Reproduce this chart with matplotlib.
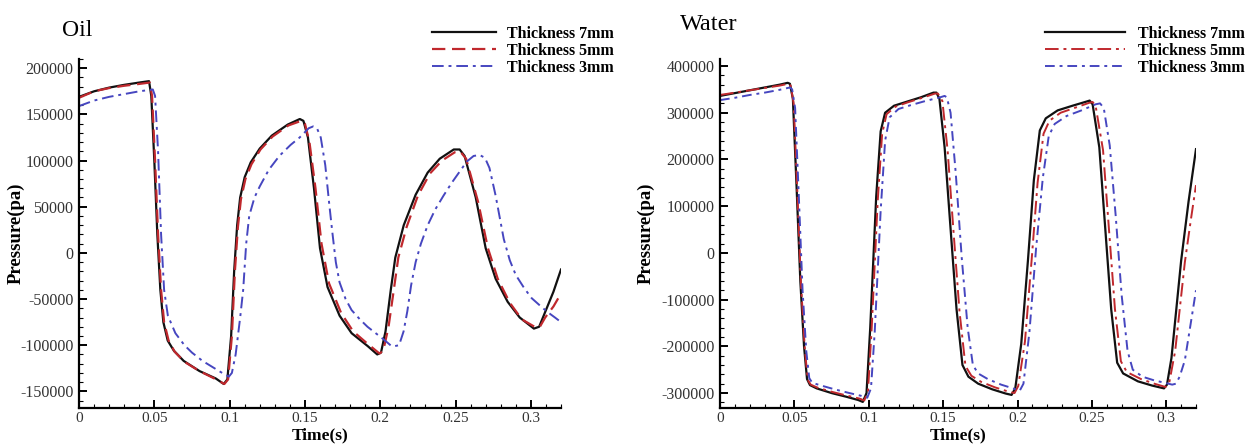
import matplotlib
matplotlib.use("Agg")
from matplotlib import pyplot as plt
from matplotlib.ticker import MultipleLocator, FuncFormatter
import numpy as np

plt.rcParams['font.family'] = ['Liberation Serif', 'DejaVu Serif']

# ---- Oil ----
oil_t7 = [0, 0.01, 0.02, 0.03, 0.04, 0.0465, 0.048, 0.050, 0.052, 0.054, 0.056, 0.0589, 0.063, 0.0695,
          0.080, 0.0908, 0.0961, 0.0985, 0.101, 0.103, 0.105, 0.107, 0.110, 0.114, 0.120, 0.128, 0.1386,
          0.1466, 0.149, 0.152, 0.156, 0.160, 0.165, 0.173, 0.181, 0.1917, 0.198, 0.2005, 0.2035, 0.207,
          0.210, 0.2156, 0.2235, 0.2315, 0.2395, 0.2488, 0.2527, 0.256, 0.2634, 0.270, 0.2766, 0.2846,
          0.2926, 0.302, 0.3055, 0.3085, 0.315, 0.32]
oil_p7 = [169000, 175000, 179000, 182000, 184500, 186000, 170000, 100000, 20000, -40000, -75000, -95000,
          -106000, -117000, -128000, -136000, -142000, -137000, -90000, -20000, 30000, 60000, 82000, 98000,
          113000, 127000, 139000, 145000, 143000, 125000, 70000, 5000, -37000, -68000, -87000, -101000,
          -110000, -108000, -85000, -40000, -5000, 30000, 63000, 87000, 102000, 112000, 112000, 105000,
          60000, 5000, -28000, -53000, -70000, -82000, -80000, -68000, -42000, -18000]

oil_t5 = [0, 0.01, 0.02, 0.03, 0.04, 0.047, 0.0485, 0.0505, 0.0525, 0.0545, 0.0565, 0.0595, 0.0635, 0.070,
          0.080, 0.091, 0.0965, 0.099, 0.1015, 0.1035, 0.1055, 0.1075, 0.1105, 0.1145, 0.1205, 0.1285, 0.139,
          0.1475, 0.150, 0.153, 0.157, 0.161, 0.166, 0.174, 0.182, 0.192, 0.1995, 0.202, 0.2055, 0.209, 0.212,
          0.2175, 0.225, 0.233, 0.241, 0.2495, 0.253, 0.257, 0.265, 0.2715, 0.278, 0.286, 0.294, 0.3035,
          0.306, 0.3095, 0.315, 0.32]
oil_p5 = [168000, 175000, 178500, 181000, 183000, 184500, 170000, 100000, 20000, -40000, -75000, -95000,
          -107000, -118000, -128000, -137000, -142000, -137000, -90000, -20000, 28000, 58000, 80000, 96000,
          112000, 126000, 138000, 143000, 140000, 120000, 70000, 10000, -33000, -65000, -85000, -99000,
          -109000, -106000, -80000, -40000, -5000, 28000, 62000, 86000, 100000, 109000, 110000, 102000,
          55000, 5000, -28000, -54000, -72000, -81000, -80000, -70000, -58000, -44000]

oil_t3 = [0, 0.01, 0.02, 0.03, 0.04, 0.049, 0.0505, 0.0525, 0.0545, 0.0565, 0.059, 0.064, 0.070, 0.075,
          0.082, 0.088, 0.094, 0.0995, 0.1015, 0.104, 0.107, 0.109, 0.111, 0.113, 0.1165, 0.120, 0.126,
          0.133, 0.1405, 0.1465, 0.1525, 0.1555, 0.158, 0.1605, 0.1635, 0.166, 0.168, 0.1705, 0.173, 0.177,
          0.181, 0.1865, 0.1915, 0.197, 0.2025, 0.2075, 0.2095, 0.2125, 0.2155, 0.218, 0.2205, 0.2235,
          0.227, 0.2315, 0.2365, 0.242, 0.2475, 0.2527, 0.2575, 0.262, 0.266, 0.2695, 0.2725, 0.2766,
          0.282, 0.286, 0.290, 0.2955, 0.3005, 0.306, 0.311, 0.316, 0.32]
oil_p3 = [159000, 165000, 169000, 172000, 175000, 177000, 170000, 110000, 20000, -40000, -68000, -87000,
          -100000, -108000, -117000, -123000, -129000, -134000, -130000, -110000, -70000, -40000, 10000,
          40000, 60000, 72000, 90000, 105000, 117000, 125000, 135000, 137000, 135000, 125000, 95000, 55000,
          25000, -10000, -32000, -50000, -62000, -72000, -80000, -87000, -94000, -101000, -101000, -100000,
          -85000, -63000, -35000, -10000, 10000, 30000, 47000, 62000, 76000, 88000, 99000, 105000, 106000,
          103000, 92000, 62000, 15000, -8000, -24000, -38000, -49000, -57000, -64000, -70000, -75000]

# ---- Water ----
wat_t7 = [0, 0.01, 0.02, 0.03, 0.04, 0.0455, 0.047, 0.049, 0.0515, 0.054, 0.0565, 0.0585, 0.0605, 0.065,
          0.075, 0.085, 0.093, 0.096, 0.0985, 0.101, 0.105, 0.108, 0.111, 0.117, 0.125, 0.135, 0.1435,
          0.1455, 0.1475, 0.151, 0.155, 0.159, 0.163, 0.167, 0.1736, 0.183, 0.192, 0.196, 0.1985, 0.2025,
          0.207, 0.211, 0.215, 0.219, 0.227, 0.237, 0.2465, 0.2485, 0.2505, 0.255, 0.259, 0.263, 0.267,
          0.271, 0.281, 0.2905, 0.2985, 0.3005, 0.3035, 0.310, 0.315, 0.32]
wat_p7 = [336000, 342000, 348000, 354000, 360000, 364000, 362000, 330000, 140000, -60000, -200000,
          -270000, -283000, -290000, -300000, -308000, -315000, -319000, -300000, -160000, 120000, 260000,
          300000, 315000, 323000, 333000, 343000, 343000, 330000, 226000, 52000, -120000, -240000, -265000,
          -280000, -292000, -301000, -304000, -290000, -195000, -17000, 156000, 262000, 288000, 305000,
          315000, 324000, 326000, 318000, 226000, 52000, -121000, -235000, -258000, -275000, -284000,
          -290000, -282000, -225000, -17000, 110000, 222000]

wat_t5 = [0, 0.01, 0.02, 0.03, 0.04, 0.046, 0.0475, 0.0495, 0.052, 0.0545, 0.057, 0.059, 0.061, 0.066,
          0.076, 0.086, 0.094, 0.097, 0.0995, 0.102, 0.106, 0.109, 0.112, 0.118, 0.126, 0.136, 0.1445,
          0.1465, 0.1495, 0.153, 0.157, 0.161, 0.165, 0.169, 0.1755, 0.185, 0.194, 0.198, 0.2005, 0.205,
          0.2095, 0.2135, 0.2175, 0.2215, 0.229, 0.239, 0.248, 0.2505, 0.2525, 0.2575, 0.2615, 0.2655,
          0.2695, 0.2735, 0.283, 0.292, 0.2995, 0.302, 0.306, 0.3125, 0.3165, 0.32]
wat_p5 = [338000, 343000, 348000, 353000, 358000, 362000, 358000, 320000, 130000, -70000, -205000,
          -272000, -282000, -289000, -298000, -306000, -312000, -316000, -295000, -160000, 110000, 255000,
          297000, 313000, 322000, 332000, 341000, 341000, 325000, 220000, 45000, -125000, -242000, -263000,
          -276000, -288000, -297000, -300000, -285000, -190000, -15000, 150000, 255000, 283000, 300000,
          311000, 321000, 323000, 315000, 220000, 50000, -120000, -232000, -255000, -270000, -280000,
          -287000, -278000, -210000, -20000, 70000, 145000]

wat_t3 = [0, 0.01, 0.02, 0.03, 0.04, 0.047, 0.0485, 0.0505, 0.053, 0.0555, 0.058, 0.060, 0.062, 0.067,
          0.077, 0.087, 0.095, 0.099, 0.1015, 0.104, 0.108, 0.111, 0.114, 0.120, 0.128, 0.138, 0.148, 0.151,
          0.1525, 0.155, 0.1585, 0.1625, 0.1665, 0.170, 0.1735, 0.180, 0.189, 0.197, 0.2015, 0.204, 0.208,
          0.2125, 0.217, 0.221, 0.225, 0.233, 0.243, 0.2525, 0.2555, 0.258, 0.262, 0.266, 0.270, 0.274,
          0.2775, 0.284, 0.292, 0.299, 0.304, 0.3065, 0.309, 0.3125, 0.316, 0.32]
wat_p3 = [327000, 332000, 338000, 343000, 349000, 354000, 350000, 310000, 120000, -80000, -210000,
          -268000, -278000, -283000, -292000, -300000, -306000, -310000, -290000, -170000, 90000, 240000,
          290000, 308000, 316000, 325000, 333000, 336000, 333000, 300000, 170000, -10000, -160000, -240000,
          -258000, -270000, -282000, -290000, -295000, -280000, -170000, 10000, 160000, 250000, 276000,
          293000, 305000, 318000, 320000, 310000, 230000, 80000, -90000, -210000, -250000, -265000,
          -273000, -278000, -282000, -280000, -265000, -230000, -160000, -80000]

labels = ['Thickness 7mm', 'Thickness 5mm', 'Thickness 3mm']
black = '#111111'
red = '#c0282d'
blue = '#4646c0'

fig = plt.figure(figsize=(12.45, 4.48), dpi=100)
ax1 = fig.add_axes([79/1245, 1-408/448, 482/1245, 349/448])
ax2 = fig.add_axes([720/1245, 1-408/448, 476/1245, 349/448])

ax1.plot(oil_t7, oil_p7, color=black, lw=1.6, label=labels[0])
ax1.plot(oil_t5, oil_p5, color=red, lw=1.6, dashes=(6, 3), label=labels[1])
ax1.plot(oil_t3, oil_p3, color=blue, lw=1.4, dashes=(6, 2.5, 1.5, 2.5), label=labels[2])

ax2.plot(wat_t7, wat_p7, color=black, lw=1.6, label=labels[0])
ax2.plot(wat_t5, wat_p5, color=red, lw=1.4, dashes=(7, 2.5, 1.5, 2.5), label=labels[1])
ax2.plot(wat_t3, wat_p3, color=blue, lw=1.4, dashes=(5, 2.5, 1.5, 2.5), label=labels[2])

ax1.set_ylim(-168000, 210000)
ax1.yaxis.set_major_locator(MultipleLocator(50000))
ax1.yaxis.set_minor_locator(MultipleLocator(10000))
ax2.set_ylim(-332000, 415000)
ax2.yaxis.set_major_locator(MultipleLocator(100000))
ax2.yaxis.set_minor_locator(MultipleLocator(20000))

for ax, title, tx, ty, tsize in [(ax1, 'Oil', 62, 30, 17), (ax2, 'Water', 680, 24, 17.5)]:
    ax.set_xlim(0, 0.32)
    ax.xaxis.set_major_locator(MultipleLocator(0.05))
    ax.xaxis.set_minor_locator(MultipleLocator(0.01))
    ax.xaxis.set_major_formatter(FuncFormatter(lambda v, p: '%g' % round(v, 3)))
    ax.yaxis.set_major_formatter(FuncFormatter(lambda v, p: '%d' % v))
    for s in ['top', 'right']:
        ax.spines[s].set_visible(False)
    for s in ['left', 'bottom']:
        ax.spines[s].set_linewidth(1.6)
    ax.tick_params(which='major', direction='in', length=6, width=1.4, labelsize=11.5, pad=4,
                   labelcolor='#333333')
    ax.tick_params(axis='x', which='major', pad=3, labelsize=11)
    ax.tick_params(which='minor', direction='in', length=3, width=0.8)
    ax.set_xlabel('Time(s)', fontsize=12.5, fontweight='bold')
    ax.xaxis.set_label_coords(0.5, -0.056)
    ax.set_ylabel('Pressure(pa)', fontsize=13.5, fontweight='bold')
    fig.text(tx/1245, 1-ty/448, title, fontsize=tsize, va='center')

ax1.yaxis.set_label_coords(-0.112, 0.5)
ax2.yaxis.set_label_coords(-0.137, 0.5)

ax1.legend(loc='upper right', bbox_to_anchor=(614/1245, 1-26/448), bbox_transform=fig.transFigure,
           frameon=False, handlelength=4.0, labelspacing=0.05, borderpad=0, borderaxespad=0,
           handletextpad=0.7, prop={'weight': 'bold', 'size': 11.5})
ax2.legend(loc='upper right', bbox_to_anchor=(1245/1245, 1-26/448), bbox_transform=fig.transFigure,
           frameon=False, handlelength=5.0, labelspacing=0.05, borderpad=0, borderaxespad=0,
           handletextpad=0.8, prop={'weight': 'bold', 'size': 11.5})

fig.savefig('out.png', dpi=100)
